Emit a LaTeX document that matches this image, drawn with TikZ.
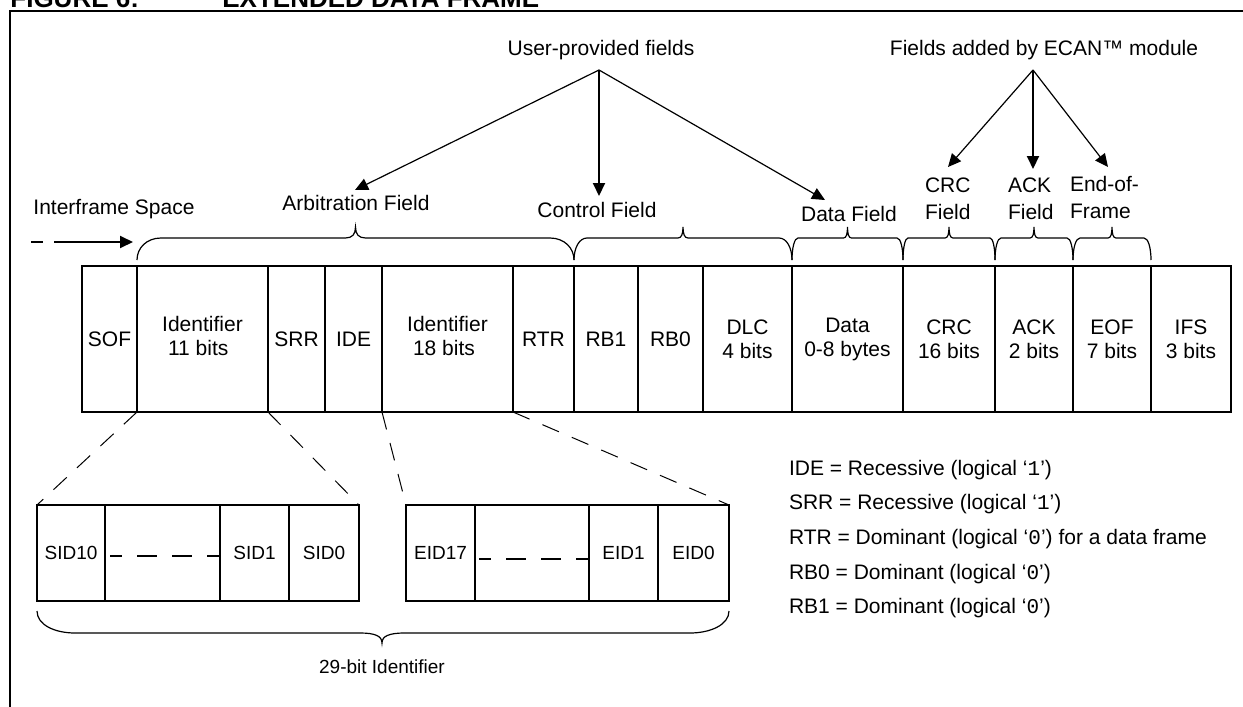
\documentclass[tikz,border=0pt]{standalone}
\usepackage{fontspec}
\setmainfont{Liberation Sans}
\setmonofont{Liberation Mono}
\usetikzlibrary{arrows.meta}

\newcommand\labfont{\fontsize{10.5}{12}\selectfont}
\newcommand\subfont{\fontsize{9.5}{11}\selectfont}
\newcommand\twofont{\fontsize{10.5}{13.5}\selectfont}
\newcommand\headfont{\fontsize{13}{15}\selectfont\bfseries}

\begin{document}
\begin{tikzpicture}[x=0.5pt, y=-0.5pt,
  cell/.style={draw, line width=1pt, inner sep=0pt, outer sep=0pt,
    minimum height=73pt, align=center, font=\labfont},
  subcell/.style={draw, line width=1pt, inner sep=0pt, outer sep=0pt,
    minimum height=48pt, align=center, font=\subfont},
  lbl/.style={inner sep=0pt, outer sep=0pt, font=\labfont},
  pointer/.style={line width=0.6pt, -{Triangle[length=6.5pt,width=6pt]}},
  trunk/.style={line width=1pt, -{Triangle[length=6.5pt,width=6pt]}},
  bracket/.style={line width=0.6pt},
  zoomline/.style={line width=0.5pt, dash pattern=on 9pt off 7pt},
  gapline/.style={line width=1pt, dash pattern=on 10pt off 7.5pt, dash phase=4pt},
]
\useasboundingbox (0,0) rectangle (1243,707);
\clip (0,0) rectangle (1243,707);

% caption and frame
\node[inner sep=0pt, anchor=base west, font=\headfont] (fig) at (10,7) {FIGURE 6:};
\node[inner sep=0pt, anchor=base west, font=\headfont] (title) at (222,7) {EXTENDED DATA FRAME};
\draw[line width=1.2pt] (10,720) -- (10,11) -- (1260,11);

% the frame fields
\node[cell, minimum width=27.5pt] (sof)  at (109.5,339) {SOF};
\node[cell, minimum width=65.5pt] (id11) at (202.5,339) {\begin{tabular}{@{}l@{}}Identifier\\\ 11 bits\end{tabular}};
\node[cell, minimum width=28.5pt] (srr)  at (296.5,339) {SRR};
\node[cell, minimum width=28.5pt] (ide)  at (353.5,339) {IDE};
\node[cell, minimum width=65.5pt] (id18) at (447.5,339) {\begin{tabular}{@{}l@{}}Identifier\\\ 18 bits\end{tabular}};
\node[cell, minimum width=30.5pt] (rtr)  at (543.5,339) {RTR};
\node[cell, minimum width=32pt]   (rb1)  at (606,339)   {RB1};
\node[cell, minimum width=32.5pt] (rb0)  at (670.5,339) {RB0};
\node[cell, minimum width=44.5pt] (dlc)  at (747.5,339) {DLC\\4 bits};
\node[cell, minimum width=55.5pt] (data) at (847.5,339) {Data\\0-8 bytes};
\node[cell, minimum width=46pt]   (crc)  at (949,339)   {CRC\\16 bits};
\node[cell, minimum width=39pt]   (ack)  at (1034,339)  {ACK\\2 bits};
\node[cell, minimum width=39pt]   (eof)  at (1112,339)  {EOF\\7 bits};
\node[cell, minimum width=40pt]   (ifs)  at (1191,339)  {IFS\\3 bits};

% field braces above the frame
\foreach \a/\b/\r/\t in {137/574/24/10, 574/792/13/5, 792/903/6/4,
                         903/995/5/4, 995/1073/6/4, 1073/1151/7/4}{
  \pgfmathsetmacro\m{(\a+\b)/2}
  \draw[bracket] (\a,260) .. controls (\a,248) and (\a+0.4*\r,238) .. (\a+\r,238)
    -- (\m-\t,238) .. controls (\m-0.3*\t,238) and (\m,234) .. (\m,227)
    .. controls (\m,234) and (\m+0.3*\t,238) .. (\m+\t,238)
    -- (\b-\r,238) .. controls (\b-0.4*\r,238) and (\b,248) .. (\b,260);
}

% field names
\node[lbl, anchor=base] (ifsl)  at (114,214) {Interframe Space};
\node[lbl, anchor=base] (arbf)  at (356,210) {Arbitration Field};
\node[lbl, anchor=base] (ctlf)  at (597,217) {Control Field};
\node[lbl, anchor=base] (dataf) at (849,221) {Data Field};
\node[lbl, anchor=south west, align=left, font=\twofont] (crcf) at (925,220) {CRC\\Field};
\node[lbl, anchor=south west, align=left, font=\twofont] (ackf) at (1008,220) {ACK\\Field};
\node[lbl, anchor=south west, align=left, font=\twofont] (eoff) at (1070,219) {End-of-\\Frame};

% interframe arrow
\coordinate (ifsa) at (31,242);
\coordinate (ifsb) at (133,242);
\draw[line width=1pt, dash pattern=on 6pt off 5.5pt on 100pt,
      -{Triangle[length=6.5pt,width=6pt]}] (ifsa) -- (ifsb);

% groups of fields
\node[lbl, anchor=base] (userf) at (601,55) {User-provided fields};
\node[lbl, anchor=base] (ecanf) at (1044,55) {Fields added by ECAN™ module};
\coordinate (ufork) at (599,70);
\coordinate (efork) at (1033,70);
\coordinate (arbtip)  at (355,190);
\coordinate (ctltip)  at (599,196);
\coordinate (datatip) at (825,200);
\coordinate (crctip)  at (948,167);
\coordinate (acktip)  at (1033,169);
\coordinate (eoftip)  at (1108,167);
\draw[pointer] (ufork) -- (arbtip);
\draw[trunk]   (ufork) -- (ctltip);
\draw[pointer] (ufork) -- (datatip);
\draw[pointer] (efork) -- (crctip);
\draw[trunk]   (efork) -- (acktip);
\draw[pointer] (efork) -- (eoftip);

% identifier bits
\node[subcell, minimum width=34pt]   (sid10)  at (71,553)    {SID10};
\node[subcell, minimum width=57.5pt] (sidgap) at (162.5,553) {};
\node[subcell, minimum width=34.5pt] (sid1)   at (254.5,553) {SID1};
\node[subcell, minimum width=35pt]   (sid0)   at (324,553)   {SID0};
\node[subcell, minimum width=34.5pt] (eid17)  at (440.5,553) {EID17};
\node[subcell, minimum width=57pt]   (eidgap) at (532,553)   {};
\node[subcell, minimum width=34.5pt] (eid1)   at (623.5,553) {EID1};
\node[subcell, minimum width=35.5pt] (eid0)   at (693.5,553) {EID0};
\draw[gapline] ([shift={(5,3)}]sidgap.west) -- ([shift={(0,3)}]sidgap.east);
\draw[gapline] ([shift={(4,6)}]eidgap.west) -- ([shift={(0,6)}]eidgap.east);

% expansion lines
\draw[zoomline] (id11.south west) -- (sid10.north west);
\draw[zoomline] (id11.south east) -- (sid0.north east);
\draw[zoomline] (id18.south west) -- (eid17.north west);
\draw[zoomline] (id18.south east) -- (eid0.north east);

% 29-bit brace
\draw[bracket] (37,611) .. controls (37,625) and (55,633) .. (75,633)
  -- (360,633) .. controls (375,633) and (382,636) .. (382,643)
  .. controls (382,636) and (389,633) .. (405,633)
  -- (690,633) .. controls (710,633) and (729,625) .. (729,611);
\node[lbl, anchor=base, font=\subfont] (idlen) at (382,673) {29-bit Identifier};

% bit levels
\node[lbl, anchor=base west] (lide) at (789,475) {IDE = Recessive (logical ‘\texttt{1}’)};
\node[lbl, anchor=base west] (lsrr) at (789,509) {SRR = Recessive (logical ‘\texttt{1}’)};
\node[lbl, anchor=base west] (lrtr) at (789,544) {RTR = Dominant (logical ‘\texttt{0}’) for a data frame};
\node[lbl, anchor=base west] (lrb0) at (789,579) {RB0 = Dominant (logical ‘\texttt{0}’)};
\node[lbl, anchor=base west] (lrb1) at (789,613) {RB1 = Dominant (logical ‘\texttt{0}’)};
\end{tikzpicture}
\end{document}
